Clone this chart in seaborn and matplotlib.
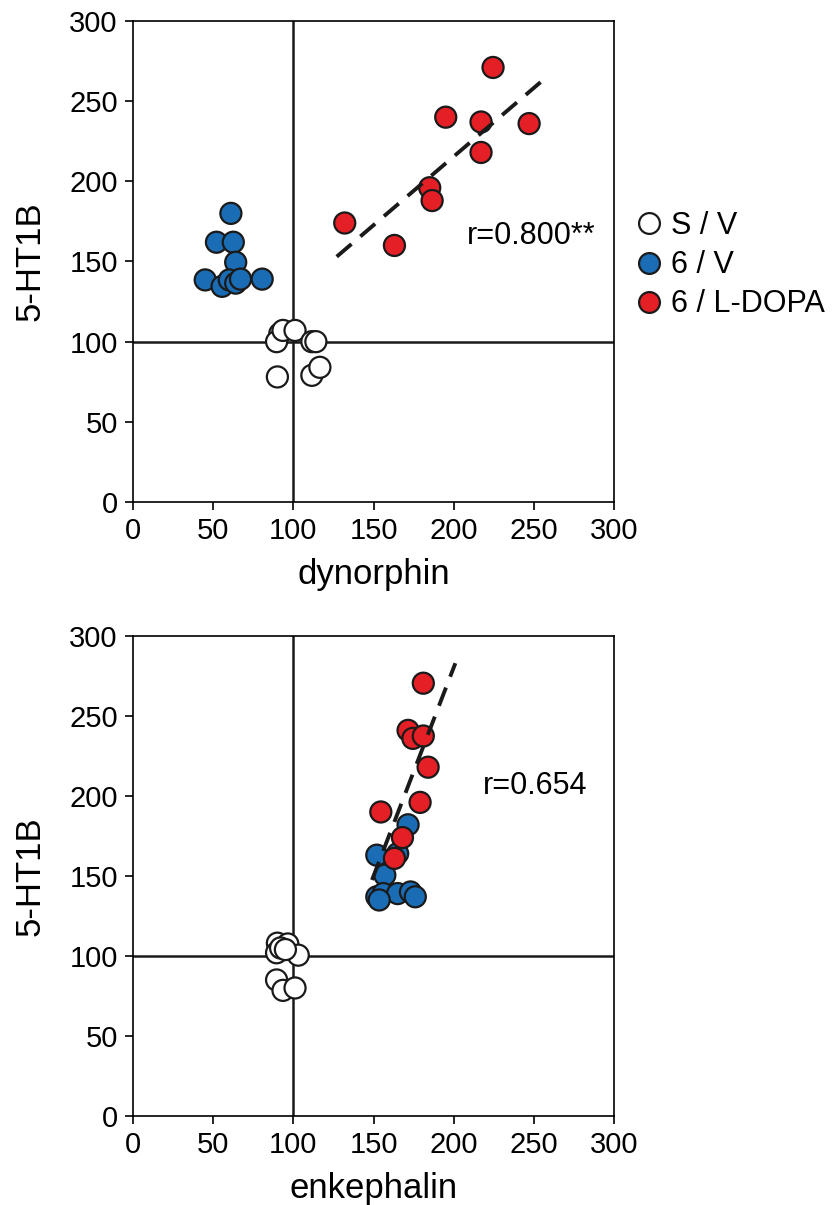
import matplotlib.pyplot as plt
import pandas as pd
import seaborn as sb

# group: S / V (white), 6 / V (blue), 6 / L-DOPA (red)
sv_dyn = [90, 91.5, 89.5, 93.5, 101, 111.5, 114, 111.5, 116.5]
sv_ht_top = [78, 105, 100, 107, 107, 100, 100, 79, 84]
v6_dyn = [61, 52, 62.5, 64, 45, 55.5, 60, 64, 67, 80.5]
v6_ht_top = [180, 162, 162, 149.5, 138.5, 134.5, 138.5, 136.5, 139, 139]
ld_dyn = [132, 163, 185, 186.5, 195, 217, 217, 224.5, 247]
ld_ht_top = [174, 160, 196, 188, 240, 237, 218, 271, 236]

sv_enk = [90, 96.5, 89.5, 103, 89.5, 93.5, 101, 92, 95]
sv_ht_bot = [108, 107.5, 102, 100.5, 85, 78.5, 80, 105, 104]
v6_enk = [171.5, 152, 165, 157, 152, 156, 165, 173, 176, 153.5]
v6_ht_bot = [182, 163, 164, 150.5, 137, 139, 139, 140, 137, 135]
ld_enk = [181, 171.5, 174.5, 181, 184, 179, 154.5, 168, 163]
ld_ht_bot = [270.5, 241, 236, 237.5, 218, 196, 190, 174, 161]

fit_dyn = [127, 259]
fit_dyn_y = [153, 266]
fit_enk = [149, 201]
fit_enk_y = [147.5, 283]

groups = ['S / V', '6 / V', '6 / L-DOPA']
colors = {'S / V': 'white', '6 / V': '#1a6db5', '6 / L-DOPA': '#e41f26'}

plt.rcParams['font.family'] = ['Liberation Sans', 'DejaVu Sans']

top = pd.DataFrame({
    'x': sv_dyn + v6_dyn + ld_dyn,
    'y': sv_ht_top + v6_ht_top + ld_ht_top,
    'group': ['S / V'] * len(sv_dyn) + ['6 / V'] * len(v6_dyn) + ['6 / L-DOPA'] * len(ld_dyn),
})
bot = pd.DataFrame({
    'x': sv_enk + v6_enk + ld_enk,
    'y': sv_ht_bot + v6_ht_bot + ld_ht_bot,
    'group': ['S / V'] * len(sv_enk) + ['6 / V'] * len(v6_enk) + ['6 / L-DOPA'] * len(ld_enk),
})

fig = plt.figure(figsize=(8.37, 12.05), dpi=100)
ax1 = fig.add_axes([0.159, 0.5834, 0.5747, 0.3992])
ax2 = fig.add_axes([0.159, 0.0739, 0.5747, 0.3983])


def panel(ax, data, fx, fy, xlabel, rtext, rpos):
    ax.axvline(100, color='#1a1a1a', lw=1.8, zorder=1)
    ax.axhline(100, color='#1a1a1a', lw=1.8, zorder=1)
    ax.plot(fx, fy, color='#1a1a1a', lw=2.8, dashes=(5, 3), zorder=4)
    sb.scatterplot(data=data, x='x', y='y', hue='group', hue_order=groups,
                   palette=colors, s=230, edgecolor='#1a1a1a', linewidth=1.6,
                   alpha=1, legend=False, ax=ax, zorder=3)
    ax.set_xlim(0, 300)
    ax.set_ylim(0, 300)
    ax.set_xticks(range(0, 301, 50))
    ax.set_yticks(range(0, 301, 50))
    ax.tick_params(labelsize=21, length=6, width=1.2, direction='out', pad=5)
    ax.set_xlabel(xlabel, fontsize=25, labelpad=9)
    ax.set_ylabel('5-HT1B', fontsize=25, labelpad=16)
    for s in ax.spines.values():
        s.set_linewidth(1.2)
    ax.text(rpos[0], rpos[1], rtext, fontsize=22, ha='left', va='center')


panel(ax1, top, fit_dyn, fit_dyn_y, 'dynorphin', 'r=0.800**', (208, 166))
panel(ax2, bot, fit_enk, fit_enk_y, 'enkephalin', 'r=0.654', (218, 206))

handles = [plt.Line2D([], [], marker='o', ls='', markersize=15,
                      markerfacecolor=colors[g], markeredgecolor='#1a1a1a',
                      markeredgewidth=1.6) for g in groups]
fig.legend(handles, groups, loc='upper left', bbox_to_anchor=(0.742, 0.835),
           frameon=False, fontsize=22, handletextpad=0.25, labelspacing=0.3,
           borderaxespad=0, handlelength=1.0)

fig.savefig('out.png', dpi=100)
